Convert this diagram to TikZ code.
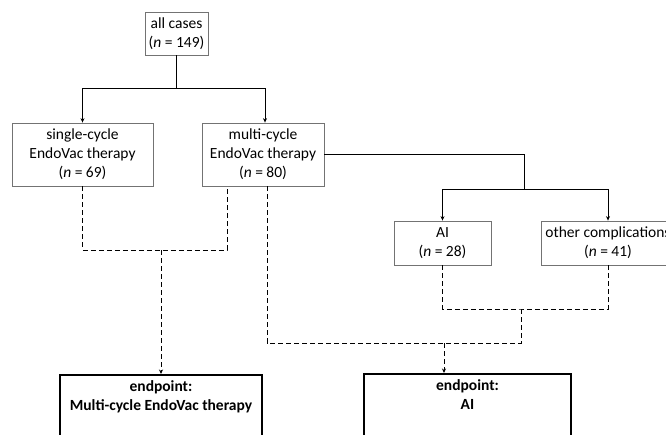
\documentclass[tikz,border=0pt]{standalone}
\usepackage{fontspec}
\setmainfont{Carlito}
\usetikzlibrary{arrows.meta}
\begin{document}
\begin{tikzpicture}[x=1pt, y=-1pt, >={Stealth[length=4.5pt, width=4pt]},
		font=\fontsize{15.5}{19}\selectfont,
		box/.style={draw=black!55, line width=0.8pt, align=center, inner sep=2pt},
		endbox/.style={draw=black, line width=1.6pt, align=center, anchor=north, inner ysep=6pt,
			font=\fontsize{15.5}{19}\selectfont\bfseries, text depth=70pt},
		solid link/.style={line width=0.95pt},
		dashed link/.style={line width=0.95pt, dash pattern=on 5pt off 3pt}]
	\useasboundingbox (0,0) rectangle (666,434);
	\clip (0,0) rectangle (666,434);
	% groups
	\node[box, minimum width=63pt, minimum height=43pt] (all) at (176.5,33.5) {all cases\\(\textit{n} = 149)};
	\node[box, minimum width=141pt, minimum height=63pt] (single) at (82.5,154.5) {single-cycle\\EndoVac therapy\\(\textit{n} = 69)};
	\node[box, minimum width=122pt, minimum height=63pt] (multi) at (263,154.5) {multi-cycle\\EndoVac therapy\\(\textit{n} = 80)};
	\node[box, minimum width=97pt, minimum height=44pt] (ai) at (442.5,243) {AI\\(\textit{n} = 28)};
	\node[box, minimum width=134pt, minimum height=44pt] (other) at (608,243) {other complications\\(\textit{n} = 41)};
	% endpoints
	\node[endbox, minimum width=202pt] (end1) at (161,374) {endpoint:\\Multi-cycle EndoVac therapy};
	\node[endbox, minimum width=207pt] (end2) at (467.5,373) {endpoint:\\AI};
	% splits
	\coordinate (split1) at (176.5,88);
	\coordinate (split2) at (524,189);
	\draw[solid link, ->] (all.south) -- (split1) -| (single.north);
	\draw[solid link, ->] (split1) -| ([xshift=2pt]multi.north);
	\draw[solid link] (multi.east) -| (split2);
	\draw[solid link, ->] (split2) -| (ai.north);
	\draw[solid link, ->] (split2) -| (other.north);
	% joins
	\coordinate (join1) at (161,250);
	\coordinate (join2) at (521,309);
	\coordinate (mid2) at (521,343);
	\coordinate (join3) at (444,343);
	\draw[dashed link] (single.south) |- (join1) -| ([xshift=-36pt]multi.south);
	\draw[dashed link, ->] (join1) -- (end1.north);
	\draw[dashed link] (ai.south) |- (join2) -| (other.south);
	\draw[dashed link] ([xshift=4pt]multi.south) |- (mid2) -- (join2);
	\draw[dashed link, ->] (join3) -- (join3 |- end2.north);
\end{tikzpicture}
\end{document}
